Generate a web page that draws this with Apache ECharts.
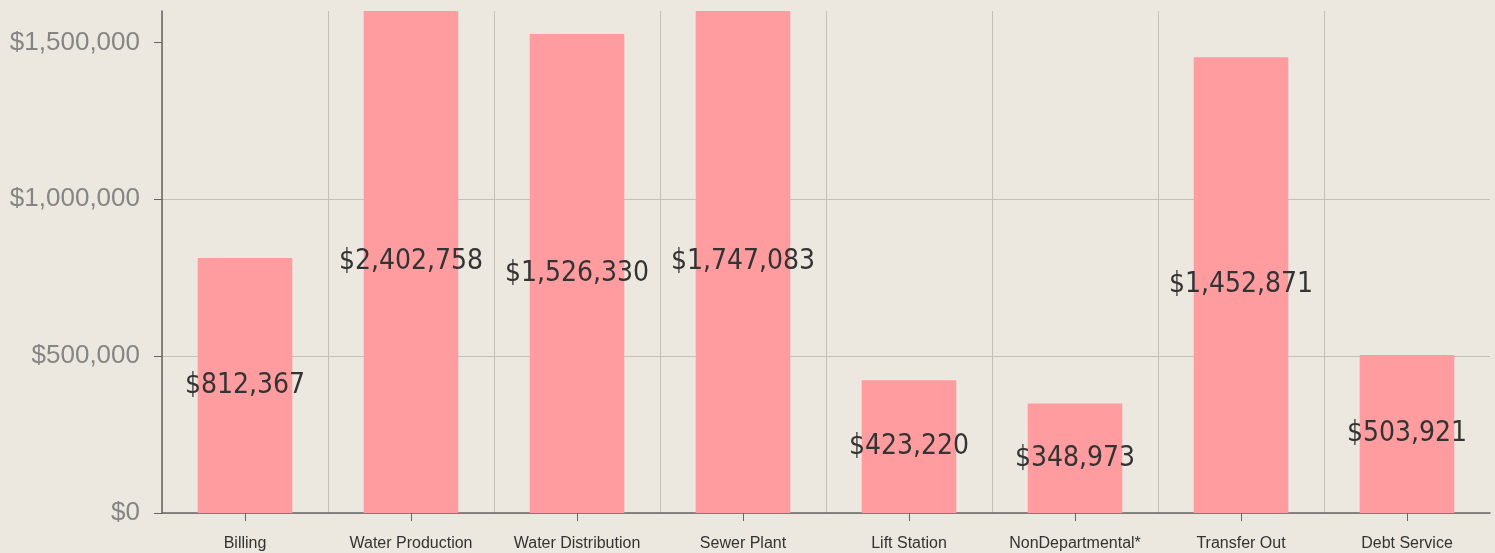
<!DOCTYPE html>
<html>
<head>
<meta charset="utf-8">
<script src="https://cdn.jsdelivr.net/npm/echarts@6/dist/echarts.min.js"></script>
<style>
html,body{margin:0;padding:0;background:#ece8df;}
#chart{width:1495px;height:553px;}
</style>
</head>
<body>
<div id="chart"></div>
<script>
// 数据
var categories = ['Billing', 'Water Production', 'Water Distribution', 'Sewer Plant', 'Lift Station', 'NonDepartmental*', 'Transfer Out', 'Debt Service'];
var amounts = [812367, 2402758, 1526330, 1747083, 423220, 348973, 1452871, 503921];
var yTicks = [0, 500000, 1000000, 1500000];

function money(v){
    return '$' + String(v).replace(/\B(?=(\d{3})+(?!\d))/g, ',');
}

(function(){
    var myChart = echarts.init(document.getElementById('chart'));
    var option = {
        backgroundColor: '#ece8df',
        animation: false,
        grid: {
            left: 162,
            right: 5,
            top: 11,
            bottom: 40
        },
        xAxis: {
            type: 'category',
            data: categories,
            axisLine: { lineStyle: { color: '#666', width: 1.5 } },
            axisTick: { show: true, interval: 0, alignWithLabel: true, length: 8, lineStyle: { color: '#666' } },
            axisLabel: { interval: 0, color: '#333', fontSize: 16, margin: 23, fontFamily: 'Liberation Sans' },
            splitLine: { show: true, interval: 0, showMaxLine: false, lineStyle: { color: '#c4c0b8', width: 1 } }
        },
        yAxis: {
            type: 'value',
            min: 0,
            max: 1600000,
            interval: 500000,
            axisLine: { show: true, lineStyle: { color: '#666', width: 1.5 } },
            axisTick: { show: true, length: 8, customValues: yTicks, lineStyle: { color: '#666' } },
            axisLabel: {
                color: '#858585',
                fontSize: 26,
                margin: 22,
                fontFamily: 'Liberation Sans',
                customValues: yTicks,
                formatter: function(v){ return money(v); }
            },
            splitLine: { showMaxLine: false, lineStyle: { color: '#c4c0b8', width: 1 } }
        },
        series: [{
            type: 'bar',
            data: amounts,
            barWidth: '57%',
            clip: true,
            itemStyle: { color: '#fe9c9f' },
            label: {
                show: true,
                position: 'inside',
                color: '#333',
                fontSize: 28,
                fontFamily: 'DejaVu Sans Condensed',
                formatter: function(p){ return money(p.value); }
            }
        }]
    };
    myChart.setOption(option);
    window.addEventListener('resize', function(){
        myChart.resize();
    });
})();
</script>
</body>
</html>
